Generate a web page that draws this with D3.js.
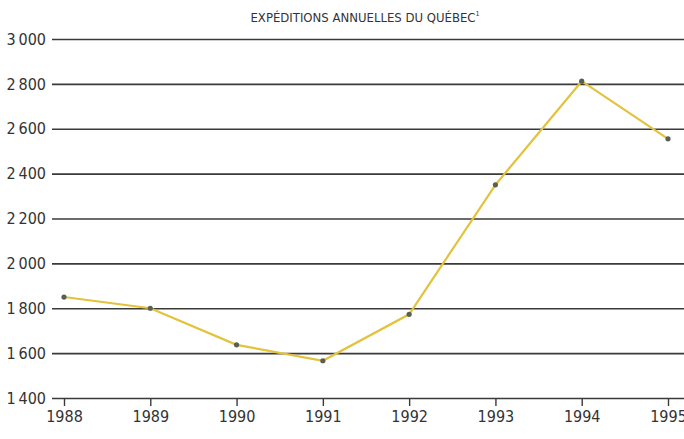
<!DOCTYPE html>
<html>
<head>
<meta charset="utf-8">
<script src="https://cdn.jsdelivr.net/npm/d3@7"></script>
<style>
  body { margin: 0; background: #fff; }
  svg { display: block; }
  text { font-stretch: condensed; }
</style>
</head>
<body>
<svg id="chart" width="684" height="439"></svg>
<script>
const years = [1988, 1989, 1990, 1991, 1992, 1993, 1994, 1995];
const shipments = [1850, 1800, 1637, 1566, 1773, 2350, 2812, 2555];
const yTicks = [1400, 1600, 1800, 2000, 2200, 2400, 2600, 2800, 3000];
const title = 'EXPÉDITIONS ANNUELLES DU QUÉBEC';

const font = '"DejaVu Sans Condensed", "DejaVu Sans", sans-serif';
const svg = d3.select('#chart');

const x = d3.scaleLinear().domain([1988, 1995]).range([64, 668]);
const y = d3.scaleLinear().domain([1400, 3000]).range([398, 39]);

// title
const t = svg.append('text')
  .attr('x', 365)
  .attr('y', 22)
  .attr('text-anchor', 'middle')
  .attr('font-family', font)
  .attr('font-size', 13)
  .attr('fill', '#333')
  .text(title);
t.append('tspan')
  .attr('dy', -6)
  .attr('font-size', 7)
  .text('1');

// horizontal grid + y labels
const yAxis = d3.axisLeft(y)
  .tickValues(yTicks)
  .tickSize(-(684 - 52))
  .tickPadding(6)
  .tickFormat(d => d3.format(',')(d).replace(',', '\u2009'));

svg.append('g')
  .attr('transform', 'translate(52,0)')
  .call(yAxis)
  .call(g => g.select('.domain').remove())
  .call(g => g.selectAll('.tick line').attr('stroke', '#3a3a3a').attr('stroke-width', 1.6))
  .call(g => g.selectAll('.tick text')
    .attr('font-family', font)
    .attr('font-size', 16)
    .attr('fill', '#333'));

// x ticks
const xAxis = d3.axisBottom(x)
  .tickValues(years)
  .tickSize(8)
  .tickPadding(5)
  .tickFormat(d3.format('d'));

svg.append('g')
  .attr('transform', `translate(0,${y(1400)})`)
  .call(xAxis)
  .call(g => g.select('.domain').remove())
  .call(g => g.selectAll('.tick line').attr('stroke', '#3a3a3a').attr('stroke-width', 1.4))
  .call(g => g.selectAll('.tick text')
    .attr('font-family', font)
    .attr('font-size', 16)
    .attr('fill', '#333'));

// series
const data = years.map((yr, i) => ({ yr, v: shipments[i] }));

svg.append('path')
  .datum(data)
  .attr('fill', 'none')
  .attr('stroke', '#e3c23c')
  .attr('stroke-width', 2.2)
  .attr('d', d3.line().x(d => x(d.yr)).y(d => y(d.v)));

svg.append('g')
  .selectAll('circle')
  .data(data)
  .enter()
  .append('circle')
  .attr('cx', d => x(d.yr))
  .attr('cy', d => y(d.v))
  .attr('r', 2.6)
  .attr('fill', '#5a6050');
</script>
</body>
</html>
